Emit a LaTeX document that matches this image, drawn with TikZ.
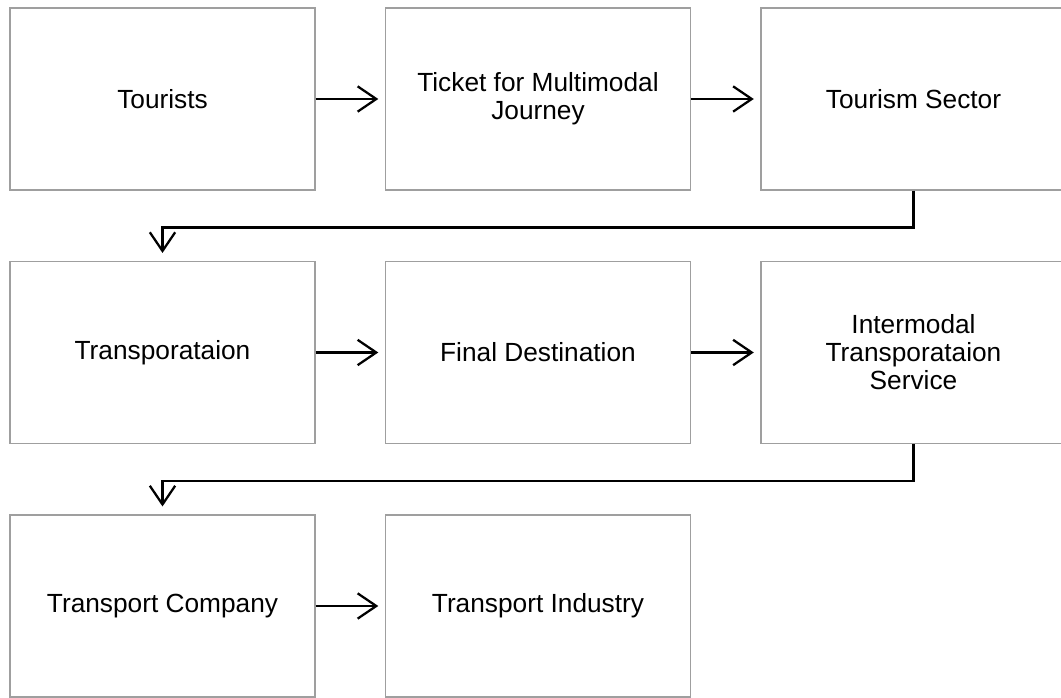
\documentclass[tikz,border=0pt]{standalone}
\usepackage{fontspec}
\setmainfont{Liberation Sans}
\usetikzlibrary{arrows.meta}

\tikzset{
 box/.style={draw=gray!75, line width=.8pt, minimum width=228.75pt, minimum height=136.5pt,
   inner sep=2pt, align=center, font=\fontsize{19.7}{21}\selectfont},
 flow/.style={black, line width=1.7pt, -{Straight Barb[length=14pt,width=19pt,line width=1.7pt]}},
}

\begin{document}
\begin{tikzpicture}[x=.75pt, y=-.75pt]
\useasboundingbox (0,0) rectangle (1061,698);
\foreach \name/\x/\y/\txt in {
 tourists/162.5/99/{Tourists},
 ticket/538/99/{Ticket for Multimodal\\Journey},
 sector/913.5/99/{Tourism Sector},
 transp/162.5/352.5/{Transporataion},
 dest/538/352.5/{Final Destination},
 service/913.5/352.5/{Intermodal\\Transporataion\\Service},
 company/162.5/606/{Transport Company},
 industry/538/606/{Transport Industry}} {
 \node[box] (\name) at (\x,\y) {\txt};
}
\foreach \a/\b in {tourists/ticket, ticket/sector, transp/dest, dest/service, company/industry} {
 \draw[flow, shorten >=5pt] (\a) -- (\b);
}
\draw[flow, shorten >=6pt] (sector.south) --++(0,37) -| (transp.north);
\draw[flow, shorten >=6pt] (service.south) --++(0,37) -| (company.north);
\end{tikzpicture}
\end{document}
